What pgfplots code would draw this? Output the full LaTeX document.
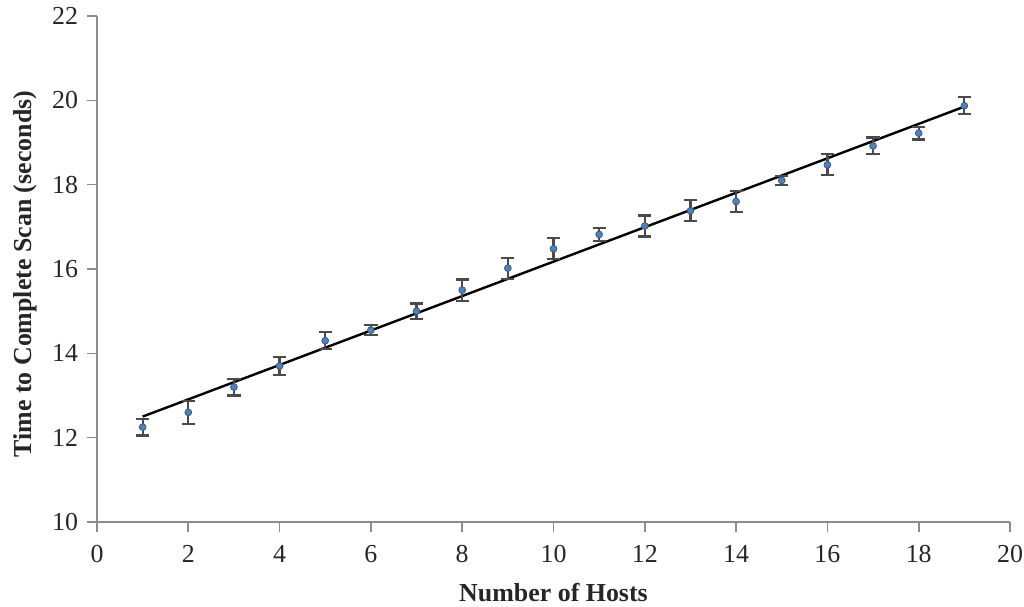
\documentclass[border=0pt]{standalone}
\usepackage{fontspec}
\setmainfont{Liberation Serif}
\usepackage{pgfplots}
\pgfplotsset{compat=1.18}
\definecolor{axgray}{HTML}{8C8C8C}
\definecolor{ptblue}{HTML}{4F81BD}
\definecolor{errgray}{HTML}{4A4A4A}
\begin{document}
\begin{tikzpicture}
\path[use as bounding box] (-48.5bp,-42.5bp) rectangle (463.5bp,261bp);
\begin{axis}[
  scale only axis,
  width=456.5bp, height=253bp,
  xmin=0, xmax=20, ymin=10, ymax=22,
  xtick={0,2,...,20}, ytick={10,12,...,22},
  axis lines*=left,
  axis line style={axgray, line width=0.8bp},
  tick style={axgray, line width=0.8bp},
  tick align=outside,
  major tick length=5bp,
  /pgf/number format/assume math mode=true,
  ticklabel style={font=\fontsize{13}{15}\selectfont, text=black!85},
  xticklabel style={yshift=-3bp},
  yticklabel style={xshift=-1bp},
  xlabel={Number of Hosts},
  ylabel={Time to Complete Scan (seconds)},
  label style={font=\fontsize{13}{15}\selectfont\bfseries, text=black!85},
  xlabel style={at={(axis description cs:0.5,-0.1403)}, anchor=center},
  ylabel style={at={(axis description cs:-0.0789,0.49)}, anchor=center},
  clip=false,
]
\addplot[black, line width=1.2bp] coordinates {(1,12.5) (19,19.85)};
\addplot[
  only marks,
  mark=*, mark size=1.7bp,
  mark options={fill=ptblue, draw=ptblue!70!black, line width=0.4bp},
  error bars/.cd, y dir=both, y explicit,
  error bar style={errgray, line width=1.1bp},
  error mark options={errgray, line width=1.1bp, mark size=3.3bp, rotate=90},
] table[x=x, y=y, y error=e] {
x y e
1 12.25 0.2
2 12.6 0.27
3 13.2 0.2
4 13.7 0.22
5 14.3 0.2
6 14.55 0.12
7 15.0 0.18
8 15.5 0.25
9 16.02 0.25
10 16.48 0.25
11 16.82 0.15
12 17.02 0.25
13 17.38 0.25
14 17.6 0.25
15 18.1 0.1
16 18.47 0.25
17 18.92 0.2
18 19.22 0.15
19 19.87 0.2
};
\end{axis}
\end{tikzpicture}
\end{document}
